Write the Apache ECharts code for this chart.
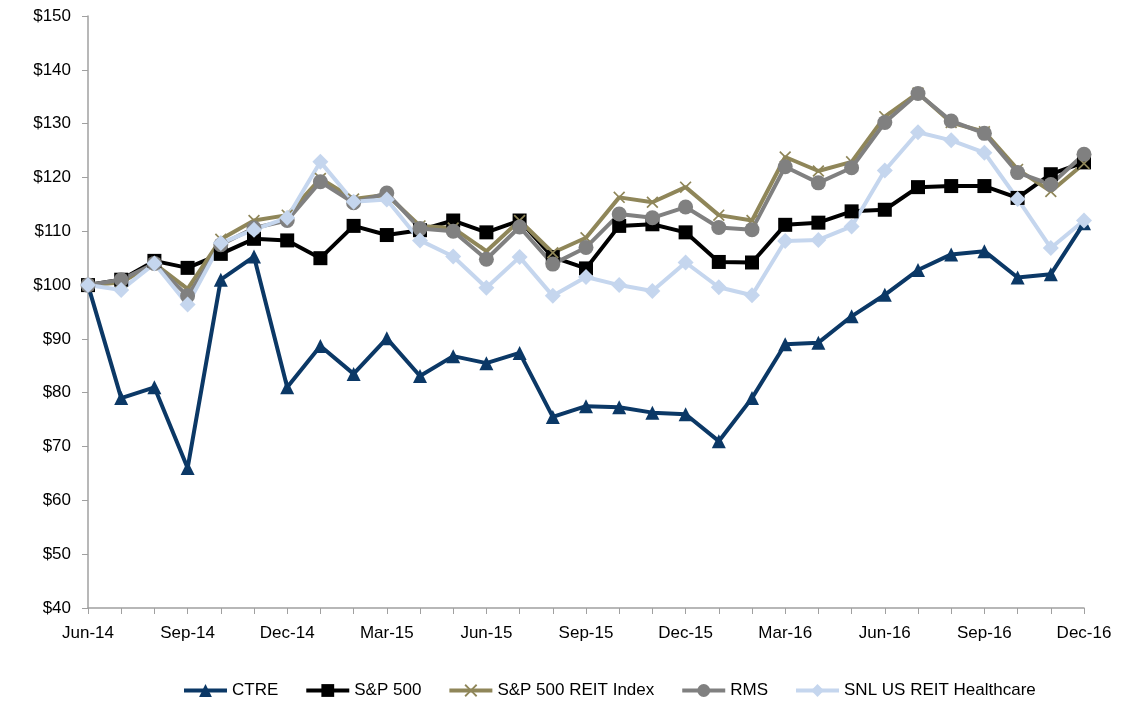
<!DOCTYPE html>
<html>
<head>
<meta charset="utf-8">
<script src="https://cdn.jsdelivr.net/npm/echarts@6/dist/echarts.min.js"></script>
<style>html,body{margin:0;padding:0;background:#fff;}#c{width:1125px;height:721px;}</style>
</head>
<body>
<div id="c"></div>
<script>
const categories = ['Jun-14','Jul-14','Aug-14','Sep-14','Oct-14','Nov-14','Dec-14','Jan-15','Feb-15','Mar-15','Apr-15','May-15','Jun-15','Jul-15','Aug-15','Sep-15','Oct-15','Nov-15','Dec-15','Jan-16','Feb-16','Mar-16','Apr-16','May-16','Jun-16','Jul-16','Aug-16','Sep-16','Oct-16','Nov-16','Dec-16'];
const ctre = [100,79,81,66,101,105.3,81,88.7,83.5,90.1,83.1,86.8,85.5,87.4,75.5,77.5,77.3,76.3,76,71,79,89,89.3,94.2,98.2,102.8,105.7,106.3,101.4,102,111.5];
const sp500 = [100,101,104.5,103.2,105.8,108.6,108.3,105,111,109.3,110.2,112,109.8,112,105.2,103.1,111,111.3,109.8,104.3,104.2,111.2,111.6,113.7,114,118.2,118.4,118.4,116.2,120.6,122.8];
const reit = [100,100.5,104,99.3,108.5,112,113,119.8,116,116.8,111,110.6,106.3,112,106,108.8,116.3,115.4,118.2,113,112,123.8,121.2,122.9,131.3,135.7,130.2,128.5,121.5,117.4,122.6];
const rms = [100,101,104,98,107.5,110.6,112,119.2,115.3,117.1,110.5,110,104.8,110.8,103.9,107,113.2,112.5,114.5,110.7,110.3,122,119,121.8,130.2,135.6,130.5,128.2,120.9,118.7,124.3];
const snl = [100,99.1,104,96.4,107.8,110.3,112.5,122.9,115.5,115.9,108.3,105.3,99.5,105.2,98,101.5,100,98.9,104.2,99.6,98.1,108.2,108.4,110.9,121.3,128.4,126.9,124.6,116,106.9,112];
const yTicks = {min:40, max:150, interval:10};

const FONT = '"Liberation Sans", Arial, sans-serif';
const xPath = 'path://M0,1L1,0L5,4L9,0L10,1L6,5L10,9L9,10L5,6L1,10L0,9L4,5Z';

function mk(name, data, color, symbol, size, lw){
  return {name, type:'line', data, symbol, symbolSize:size, showSymbol:true,
    lineStyle:{color, width:lw}, itemStyle:{color}, emphasis:{disabled:true}, animation:false};
}

const chart = echarts.init(document.getElementById('c'), null, {renderer:'canvas'});
chart.setOption({
  backgroundColor:'#fff',
  animation:false,
  grid:{left:88, right:41, top:16, bottom:113},
  legend:{
    bottom:17, left:177, itemWidth:43, itemHeight:16, itemGap:26,
    lineStyle:{width:4},
    textStyle:{fontFamily:FONT, fontSize:17, color:'#000'},
    data:['CTRE','S&P 500','S&P 500 REIT Index','RMS','SNL US REIT Healthcare']
  },
  xAxis:{
    type:'category', data:categories, boundaryGap:false,
    axisLine:{lineStyle:{color:'#a0a0a0', width:1.5}},
    axisTick:{show:true, interval:0, length:6, lineStyle:{color:'#a0a0a0'}},
    axisLabel:{interval:2, margin:17, fontFamily:FONT, fontSize:17, color:'#000'},
    splitLine:{show:false}
  },
  yAxis:{
    type:'value', min:yTicks.min, max:yTicks.max, interval:yTicks.interval,
    axisLine:{show:true, lineStyle:{color:'#a0a0a0', width:1.5}},
    axisTick:{show:true, length:6, lineStyle:{color:'#a0a0a0'}},
    axisLabel:{margin:17, fontFamily:FONT, fontSize:17, color:'#000', formatter:v=>'$'+v},
    splitLine:{show:false}
  },
  series:[
    mk('CTRE', ctre, '#0b3866', 'triangle', 14, 4),
    mk('S&P 500', sp500, '#000000', 'rect', 14, 4),
    mk('S&P 500 REIT Index', reit, '#8f8659', xPath, 12, 4),
    mk('RMS', rms, '#808080', 'circle', 15, 4),
    mk('SNL US REIT Healthcare', snl, '#c5d6ee', 'diamond', 16, 4)
  ]
});
</script>
</body>
</html>
